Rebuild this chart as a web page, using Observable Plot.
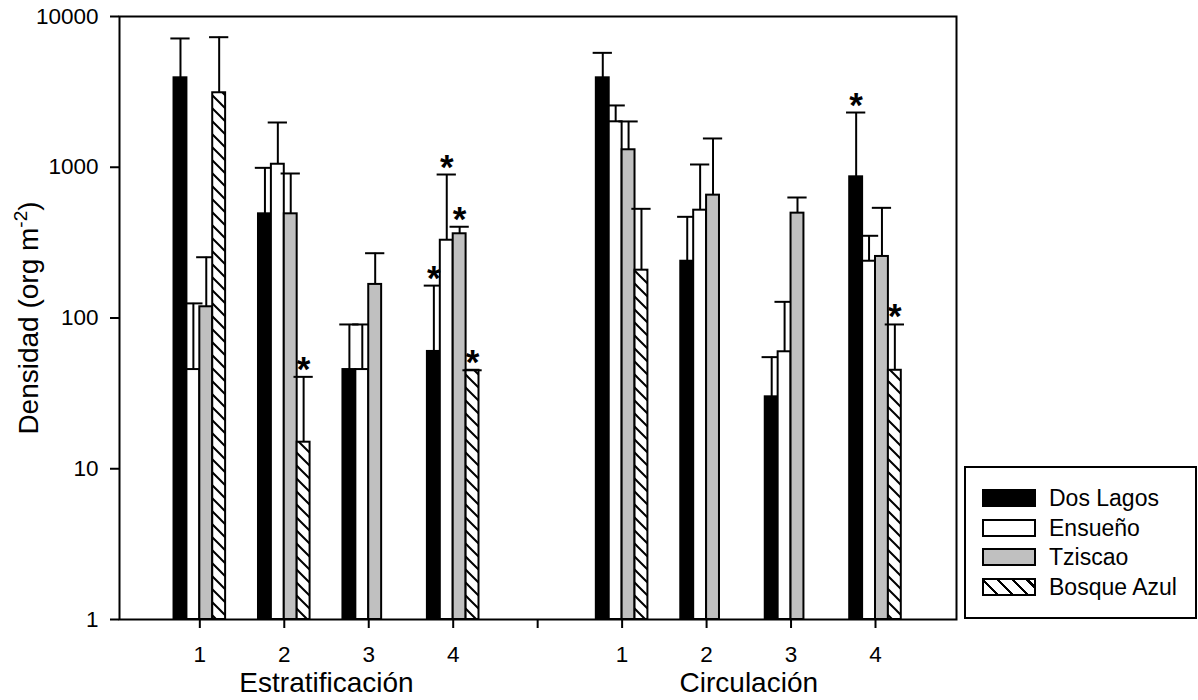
<!DOCTYPE html>
<html>
<head>
<meta charset="utf-8">
<script src="https://cdn.jsdelivr.net/npm/d3@7"></script>
<script src="https://cdn.jsdelivr.net/npm/@observablehq/plot@0.6"></script>
<style>
  body { margin: 0; background: #fff; }
  #wrap { position: relative; width: 1198px; height: 700px; font-family: "Liberation Sans", Arial, sans-serif; }
  #legend { position: absolute; left: 964px; top: 466px; width: 233px; height: 153px; border: 2px solid #000; box-sizing: border-box; background: #fff; }
  .lrow { position: absolute; left: 0; height: 18px; }
  .sw { position: absolute; left: 16px; top: 0; width: 54px; height: 18px; border: 2px solid #000; box-sizing: border-box; }
  .lt { position: absolute; left: 83px; top: -2px; font-size: 23px; line-height: 23px; white-space: nowrap; color: #000; }
</style>
</head>
<body>
<div id="wrap"></div>
<script>
// ---- data ----
const phases = ["Estratificación", "Circulación"];
const periods = ["1", "2", "3", "4"];
const xTickLabels = ["1", "2", "3", "4", "", "1", "2", "3", "4"];
const yTicks = [1, 10, 100, 1000, 10000];
const series = ["Dos Lagos", "Ensueño", "Tziscao", "Bosque Azul"];

// mean density per period: Estratificación 1-4, then Circulación 1-4 (null = no bar)
const dosLagos      = [3920, 491, 45.5, 60, 3920, 238, 30, 864];
const dosLagosUp    = [7150, 991, 90.6, 164, 5740, 469, 55, 2307];
const ensueno       = [45.5, 1047, 45.5, 328, 2002, 519, 59.7, 238];
const ensuenoUp     = [125, 1981, 90.6, 895, 2570, 1043, 128, 351];
const tziscao       = [118.7, 491, 167, 362, 1306, 653, 496, 256];
const tziscaoUp     = [253, 909, 269, 403, 2013, 1552, 630, 538];
const bosqueAzul    = [3120, 15.0, null, 45, 207.6, null, null, 45];
const bosqueAzulUp  = [7290, 40.7, null, 45, 530, null, null, 90.6];
// significance asterisks
const dosLagosSig   = [0, 0, 0, 1, 0, 0, 0, 1];
const ensuenoSig    = [0, 0, 0, 1, 0, 0, 0, 0];
const tziscaoSig    = [0, 0, 0, 1, 0, 0, 0, 0];
const bosqueAzulSig = [0, 1, 0, 1, 0, 0, 0, 1];

const values = [dosLagos, ensueno, tziscao, bosqueAzul];
const uppers = [dosLagosUp, ensuenoUp, tziscaoUp, bosqueAzulUp];
const sigs = [dosLagosSig, ensuenoSig, tziscaoSig, bosqueAzulSig];
const fills = ["#000000", "#ffffff", "#c0c0c0", "url(#hatch)"];
const yLabel = "Densidad (org m-2)";

// ---- table ----
const rows = [];
series.forEach((name, s) => {
  values[s].forEach((v, i) => {
    if (v == null) return;
    const phase = Math.floor(i / periods.length);
    const slot = phase * (periods.length + 1) + (i % periods.length);
    rows.push({series: name, s, slot, value: v, upper: uppers[s][i], sig: sigs[s][i]});
  });
});

const bw = 0.1527;   // bar width in slot units
const cap = 0.114;   // half width of error cap
const cx = d => d.slot + (d.s - 1.5) * bw;

const seriesMarks = series.flatMap((name, s) => {
  const data = rows.filter(d => d.s === s);
  return [
    Plot.rect(data, {x1: d => cx(d) - bw / 2, x2: d => cx(d) + bw / 2, y1: 1, y2: "value",
      fill: fills[s], stroke: "#000", strokeWidth: 2}),
    Plot.ruleX(data, {x: cx, y1: "value", y2: "upper", stroke: "#000", strokeWidth: 2}),
    Plot.ruleY(data, {y: "upper", x1: d => cx(d) - cap, x2: d => cx(d) + cap, stroke: "#000", strokeWidth: 2})
  ];
});

const chart = Plot.plot({
  width: 1198,
  height: 700,
  marginLeft: 119,
  marginRight: 242,
  marginTop: 16,
  marginBottom: 81,
  style: {fontFamily: "'Liberation Sans', Arial, sans-serif", fontSize: "22.5px", color: "#000", background: "#fff"},
  x: {type: "linear", domain: [-0.951, 8.959]},
  y: {type: "log", domain: [1, 10000]},
  marks: [
    ...seriesMarks,
    Plot.text(rows.filter(d => d.sig), {x: cx, y: "upper", text: () => "*", fontSize: 35, fontWeight: "bold",
      lineAnchor: "bottom", dy: 4, fill: "#000"}),
    Plot.axisY({ticks: yTicks, tickFormat: d => String(d), tickSize: 9, tickPadding: 12, strokeWidth: 2, label: null, fontSize: 22.5}),
    Plot.axisX({ticks: d3.range(xTickLabels.length), tickFormat: i => xTickLabels[i], tickSize: 9, tickPadding: 18, strokeWidth: 2, label: null, fontSize: 22.5}),
    Plot.text(phases, {x: (d, i) => i * (periods.length + 1) + (periods.length - 1) / 2, text: d => d,
      frameAnchor: "bottom", lineAnchor: "bottom", dy: 72.5, fontSize: 28, fill: "#000"}),
    Plot.text([yLabel], {text: d => d, frameAnchor: "left", textAnchor: "middle", rotate: -90,
      lineAnchor: "bottom", dx: -82, fontSize: 28, fill: "#000"}),
    Plot.frame({stroke: "#000", strokeWidth: 2})
  ]
});

// hatch pattern
const svg = d3.select(chart);
const defs = svg.insert("defs", ":first-child");
const P = 13;
const pat = defs.append("pattern").attr("id", "hatch").attr("patternUnits", "userSpaceOnUse")
  .attr("width", P).attr("height", P);
pat.append("rect").attr("width", P).attr("height", P).attr("fill", "#fff");
pat.append("path").attr("d", `M0,0L${P},${P}M-3,${P - 3}L3,${P + 3}M${P - 3},-3L${P + 3},3`)
  .attr("stroke", "#000").attr("stroke-width", 2);

// y label with superscript
const yl = Array.from(chart.querySelectorAll("text")).find(t => t.textContent === yLabel);
if (yl) {
  yl.textContent = "";
  yl.appendChild(document.createTextNode("Densidad (org m"));
  const sup = document.createElementNS("http://www.w3.org/2000/svg", "tspan");
  sup.setAttribute("font-size", "19");
  sup.setAttribute("dy", "-11");
  sup.textContent = "-2";
  yl.appendChild(sup);
  const close = document.createElementNS("http://www.w3.org/2000/svg", "tspan");
  close.setAttribute("dy", "11");
  close.textContent = ")";
  yl.appendChild(close);
}

const wrap = document.getElementById("wrap");
wrap.appendChild(chart);

// legend
const legend = document.createElement("div");
legend.id = "legend";
const legendFills = ["#000", "#fff", "#c0c0c0",
  "repeating-linear-gradient(45deg, #fff 0px, #fff 8px, #000 8px, #000 10.5px)"];
series.forEach((name, s) => {
  const row = document.createElement("div");
  row.className = "lrow";
  row.style.top = (21 + s * 29.6) + "px";
  const sw = document.createElement("div");
  sw.className = "sw";
  sw.style.background = legendFills[s];
  const t = document.createElement("div");
  t.className = "lt";
  t.textContent = name;
  row.appendChild(sw);
  row.appendChild(t);
  legend.appendChild(row);
});
wrap.appendChild(legend);
</script>
</body>
</html>
